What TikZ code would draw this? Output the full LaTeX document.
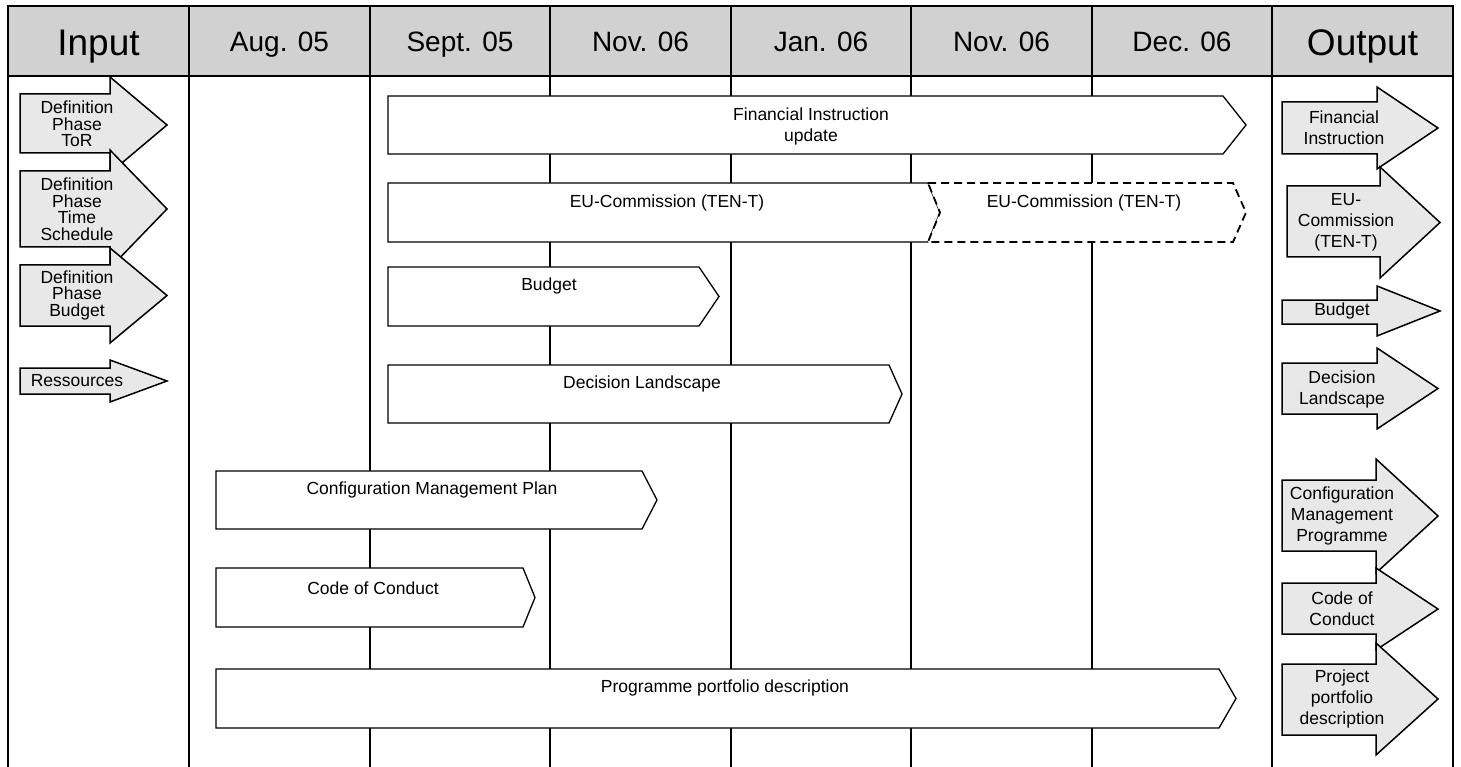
\documentclass[tikz,border=0pt]{standalone}
\usepackage{fontspec}
\setmainfont{Liberation Sans}
\definecolor{hdrgray}{RGB}{209,209,209}
\definecolor{iogray}{RGB}{232,232,232}
\newcommand\chevbar[6]{% style, xleft, xshoulder, xtip, ytop, ybottom
  \draw[#1] (#2,#5) -- (#3,#5) -- (#4,{(#5+#6)/2}) -- (#3,#6) -- (#2,#6) -- cycle;}
\newcommand\ioarrow[7]{% xleft, xshoulder, xtip, bodytop, bodybottom, headtop, headbottom
  \draw[ioarrowstyle] (#1,#4) -- (#2,#4) -- (#2,#6) -- (#3,{(#6+#7)/2}) -- (#2,#7) -- (#2,#5) -- (#1,#5) -- cycle;}
\tikzset{
  gridline/.style={line width=2pt},
  framebox/.style={line width=2.4pt},
  hdrcell/.style={draw=black, fill=hdrgray, line width=1.2pt},
  barstyle/.style={draw=black, fill=white, line width=1.3pt, line join=miter},
  dashbarstyle/.style={draw=black, fill=white, line width=1.8pt, dash pattern=on 8pt off 5pt},
  ioarrowstyle/.style={draw=black, fill=iogray, line width=1.5pt, line join=miter},
  hdrtxt/.style={font=\fontsize{28}{32}\selectfont, anchor=base, inner sep=0pt},
  bigtxt/.style={font=\fontsize{37}{42}\selectfont, anchor=base, inner sep=0pt},
  lbl/.style={font=\fontsize{17.5}{21}\selectfont, align=center, inner sep=0pt},
  inlbl/.style={font=\fontsize{17.5}{16.5}\selectfont, align=center, inner sep=0pt},
}
\begin{document}
\begin{tikzpicture}[x=1pt,y=-1pt]
\useasboundingbox (0,0) rectangle (1461,767);
% grid lines of the body
\foreach \x in {189,370,550,731,911,1092,1272}
  \draw[gridline] (\x,76) -- (\x,767);
\draw[framebox] (8,6) -- (8,767);
\draw[framebox] (1453,6) -- (1453,767);
% header
\foreach \a/\b in {8/189,189/370,370/550,550/731,731/911,911/1092,1092/1272,1272/1453}
  \draw[hdrcell] (\a,6) rectangle (\b,76);
\draw[framebox] (8,6) -- (1453,6);
\draw[framebox] (8,76) -- (1453,76);
\node[bigtxt] (hInput) at (98.5,56) {Input};
\node[hdrtxt] (hAug) at (279.5,52) {Aug. 05};
\node[hdrtxt] (hSept) at (460,52) {Sept. 05};
\node[hdrtxt] (hNovA) at (640.5,52) {Nov. 06};
\node[hdrtxt] (hJan) at (821,52) {Jan. 06};
\node[hdrtxt] (hNovB) at (1001.5,52) {Nov. 06};
\node[hdrtxt] (hDec) at (1182,52) {Dec. 06};
\node[bigtxt] (hOutput) at (1362.5,56) {Output};
% input arrows
\ioarrow{20}{110}{167}{94}{153}{77}{173}
\node[inlbl] (inTor) at (77,124) {Definition\\Phase\\ToR};
\ioarrow{20}{110}{167}{171}{247}{150}{268}
\node[inlbl] (inTime) at (77,209) {Definition\\Phase\\Time\\Schedule};
\ioarrow{20}{110}{167}{265}{326}{248}{343}
\node[inlbl] (inBudget) at (77,295) {Definition\\Phase\\Budget};
\ioarrow{20}{110}{167}{368}{394}{360}{402}
\node[inlbl] (inRes) at (77,381) {Ressources};
% timeline bars
\chevbar{barstyle}{388}{1223}{1246}{96}{154}
\node[lbl] (bFin) at (811,126) {Financial Instruction\\update};
\chevbar{barstyle}{388}{928}{940}{183}{242}
\node[lbl] (bEU) at (667,203) {EU-Commission (TEN-T)};
\draw[dashbarstyle] (928,183) -- (1233,183) -- (1246,212.5) -- (1233,242) -- (928,242) -- (940,212.5) -- cycle;
\node[lbl] (bEUb) at (1084,203) {EU-Commission (TEN-T)};
\chevbar{barstyle}{388}{699}{719}{267}{326}
\node[lbl] (bBudget) at (549,286) {Budget};
\chevbar{barstyle}{388}{889}{902}{365}{423}
\node[lbl] (bDec) at (642,384) {Decision Landscape};
\chevbar{barstyle}{216}{642}{657}{471}{529}
\node[lbl] (bConf) at (432,490) {Configuration Management Plan};
\chevbar{barstyle}{216}{523}{535}{568}{627}
\node[lbl] (bCode) at (373,588) {Code of Conduct};
\chevbar{barstyle}{216}{1219}{1236}{669}{728}
\node[lbl] (bProg) at (725,688) {Programme portfolio description};
% output arrows
\ioarrow{1282}{1377}{1438}{102}{154}{87}{169}
\node[lbl] (oFin) at (1344,128) {Financial\\Instruction};
\ioarrow{1287}{1380}{1440}{186}{257}{167}{278}
\node[lbl] (oEU) at (1346,222) {EU-\\Commission\\(TEN-T)};
\ioarrow{1282}{1377}{1440}{300}{324}{286}{336}
\node[lbl] (oBudget) at (1342,311) {Budget};
\ioarrow{1282}{1377}{1438}{363}{414}{348}{429}
\node[lbl] (oDec) at (1342,389) {Decision\\Landscape};
\ioarrow{1282}{1376}{1438}{480}{551}{459}{573}
\node[lbl] (oConf) at (1342,516) {Configuration\\Management\\Programme};
\ioarrow{1282}{1376}{1438}{583}{634}{568}{650}
\node[lbl] (oCode) at (1342,609) {Code of\\Conduct};
\ioarrow{1282}{1376}{1438}{664}{735}{643}{755}
\node[lbl] (oProj) at (1342,699) {Project\\portfolio\\description};
\end{tikzpicture}
\end{document}
